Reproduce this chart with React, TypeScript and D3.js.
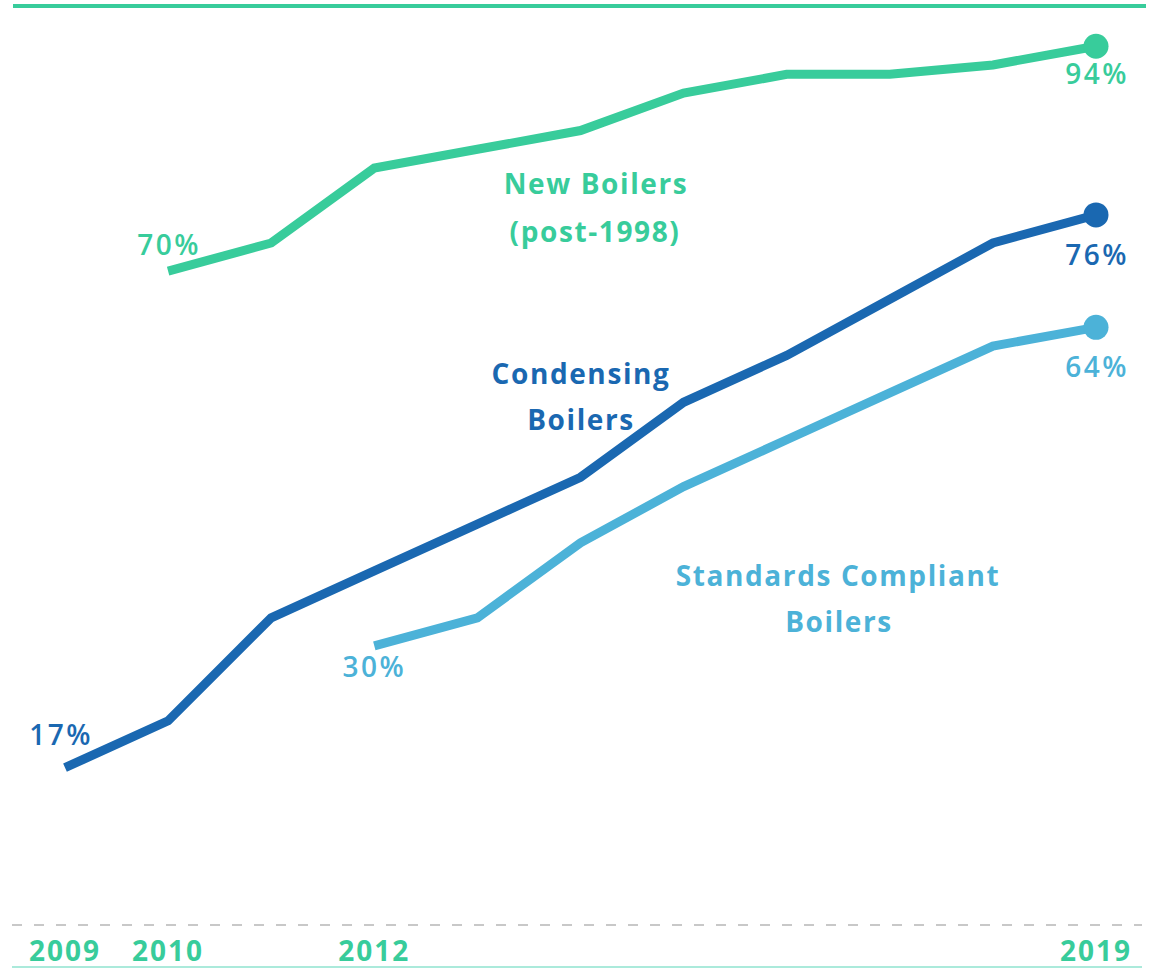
import React from "react";
import * as d3 from "d3";

const years = [2009, 2010, 2011, 2012, 2013, 2014, 2015, 2016, 2017, 2018, 2019];
const tickYears = [2009, 2010, 2012, 2019];

const newBoilersYears = [2010, 2011, 2012, 2013, 2014, 2015, 2016, 2017, 2018, 2019];
const newBoilers = [70, 73, 81, 83, 85, 89, 91, 91, 92, 94];

const condensingYears = [2009, 2010, 2011, 2012, 2013, 2014, 2015, 2016, 2017, 2018, 2019];
const condensing = [17, 22, 33, 38, 43, 48, 56, 61, 67, 73, 76];

const standardsYears = [2012, 2013, 2014, 2015, 2016, 2017, 2018, 2019];
const standards = [30, 33, 41, 47, 52, 57, 62, 64];

const GREEN = "#38cc9b";
const DARK = "#1a68b1";
const LIGHT = "#4cb2d8";

const W = 1152;
const H = 969;

export default function App() {
  const x = d3.scaleLinear().domain([2009, 2019]).range([65, 1096]);
  const y = d3.scaleLinear().domain([0, 100]).range([927, -10]);
  const line = d3
    .line<[number, number]>()
    .x((d) => x(d[0]))
    .y((d) => y(d[1]));

  const series = [
    { yrs: newBoilersYears, vals: newBoilers, color: GREEN },
    { yrs: condensingYears, vals: condensing, color: DARK },
    { yrs: standardsYears, vals: standards, color: LIGHT },
  ];

  const font = "'Open Sans', Lato, sans-serif";

  return (
    <svg
      width={W}
      height={H}
      style={{ position: "absolute", left: 0, top: 0, background: "#fff" }}
      fontFamily={font}
    >
      <line x1={13} x2={1146} y1={6} y2={6} stroke={GREEN} strokeWidth={4} />
      <line x1={12} x2={1142} y1={y(0) - 2} y2={y(0) - 2} stroke="#c8c8c8" strokeWidth={2} strokeDasharray="10 12" />
      <line x1={12} x2={1142} y1={967} y2={967} stroke="#8fe3cf" strokeWidth={1.5} />

      {series.map((s, i) => {
        const pts = s.yrs.map((yr, j) => [yr, s.vals[j]] as [number, number]);
        const last = pts[pts.length - 1];
        return (
          <g key={i}>
            <path d={line(pts) || ""} fill="none" stroke={s.color} strokeWidth={9} strokeLinejoin="miter" />
            <circle cx={x(last[0])} cy={y(last[1])} r={12.5} fill={s.color} />
          </g>
        );
      })}

      {/* value labels */}
      <g fontSize={28} fontWeight={600} textAnchor="middle" letterSpacing={2.5}>
        <text x={x(newBoilersYears[newBoilersYears.length - 1]) + 1} y={y(94) + 38} fill={GREEN}>{newBoilers[newBoilers.length - 1]}%</text>
        <text x={x(2010) + 1} y={y(70) - 16} fill={GREEN}>{newBoilers[0]}%</text>
        <text x={x(2019) + 1} y={y(76) + 50} fill={DARK}>{condensing[condensing.length - 1]}%</text>
        <text x={x(2009) - 4} y={y(17) - 23} fill={DARK}>{condensing[0]}%</text>
        <text x={x(2012) + 0} y={y(30) + 31} fill={LIGHT}>{standards[standards.length - 8]}%</text>
        <text x={x(2019) + 1} y={y(64) + 50} fill={LIGHT}>{standards[standards.length - 1]}%</text>
      </g>

      {/* series names */}
      <g fontSize={28} fontWeight={700} textAnchor="middle" letterSpacing={1.6}>
        <text x={596} y={194} fill={GREEN}>New Boilers</text>
        <text x={595} y={242} fill={GREEN}>(post-1998)</text>
        <text x={581} y={384} fill={DARK}>Condensing</text>
        <text x={581} y={430} fill={DARK}>Boilers</text>
        <text x={838} y={586} fill={LIGHT}>Standards Compliant</text>
        <text x={839} y={632} fill={LIGHT}>Boilers</text>
      </g>

      {/* x axis */}
      <g fontSize={28} fontWeight={700} textAnchor="middle" fill={GREEN} letterSpacing={2}>
        {tickYears.map((yr) => (
          <text key={yr} x={x(yr)} y={961}>{yr}</text>
        ))}
      </g>
      <g opacity={0}>{years.map((yr) => <circle key={yr} cx={x(yr)} cy={0} r={0} />)}</g>
    </svg>
  );
}
